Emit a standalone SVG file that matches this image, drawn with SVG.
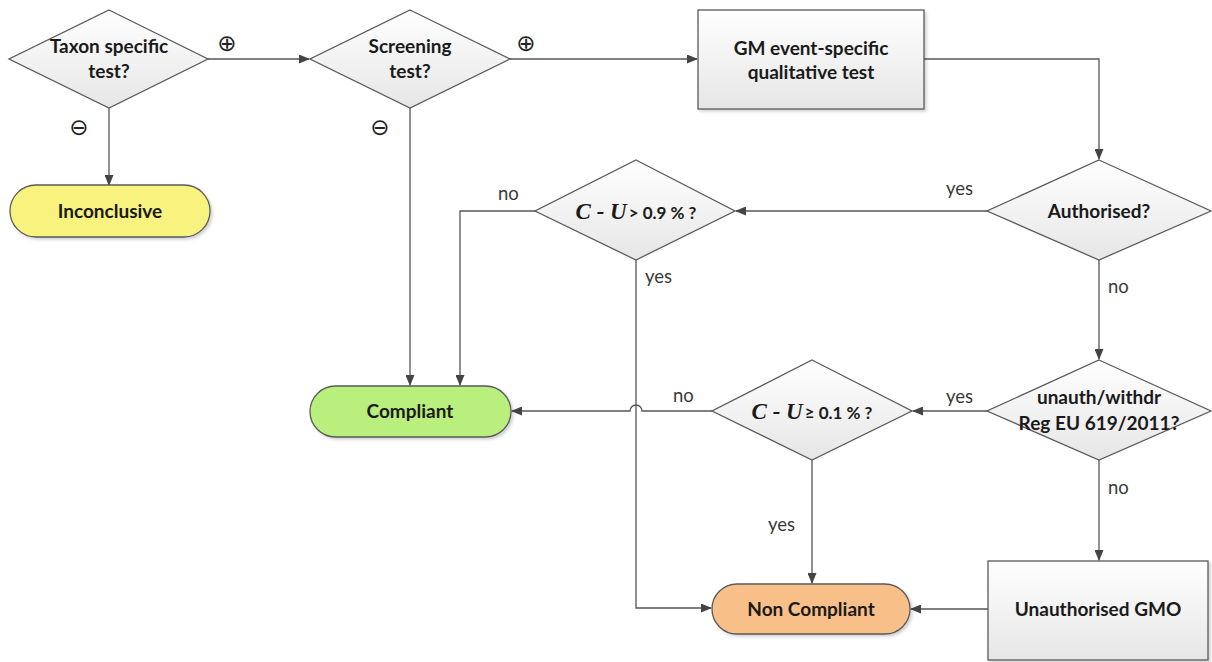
<svg xmlns="http://www.w3.org/2000/svg" width="1212" height="662" viewBox="0 0 1212 662">
<style>
.shape{stroke:#5a5a5a;stroke-width:1.3}
.t{font-family:Lato,"Liberation Sans",sans-serif;font-weight:bold;font-size:19px;fill:#1a1a1a;text-anchor:middle}
.lbl{font-family:Lato,"Liberation Sans",sans-serif;font-size:18.5px;fill:#3a3a3a}
.pm{font-family:"DejaVu Sans",sans-serif;font-size:23px;fill:#222;text-anchor:middle}
.cu{font-family:"Liberation Serif",serif;font-weight:bold;font-style:italic;font-size:23px;fill:#1a1a1a}
.cs{font-size:17px}
.edge{fill:none;stroke:#555;stroke-width:1.3}
</style>
<defs>
<linearGradient id="gray" x1="0" y1="0" x2="0" y2="1">
<stop offset="0" stop-color="#ffffff"/><stop offset="1" stop-color="#e6e6e6"/>
</linearGradient>
<filter id="sh" x="-10%" y="-10%" width="125%" height="130%">
<feDropShadow dx="2" dy="2" stdDeviation="1.5" flood-color="#000" flood-opacity="0.18"/>
</filter>
<marker id="arr" markerWidth="11" markerHeight="9" refX="10" refY="4.5" orient="auto" markerUnits="userSpaceOnUse">
<path d="M0,0 L11,4.5 L0,9 z" fill="#444"/>
</marker>
</defs>

<g id="connectors">
<path class="edge" d="M208,59 L309,59" marker-end="url(#arr)"/>
<path class="edge" d="M109,108 L109,185" marker-end="url(#arr)"/>
<path class="edge" d="M510,59 L697,59" marker-end="url(#arr)"/>
<path class="edge" d="M410,108 L410,385" marker-end="url(#arr)"/>
<path class="edge" d="M924,59 L1099,59 L1099,159" marker-end="url(#arr)"/>
<path class="edge" d="M987,211 L736,211" marker-end="url(#arr)"/>
<path class="edge" d="M535,211 L460,211 L460,385" marker-end="url(#arr)"/>
<path class="edge" d="M636,260 L636,608 L711,608" marker-end="url(#arr)"/>
<path class="edge" d="M1099,260 L1099,359" marker-end="url(#arr)"/>
<path class="edge" d="M987,411 L913,411" marker-end="url(#arr)"/>
<path class="edge" d="M712,411 L642,411 A6 6 0 0 0 630 411 L512,411" marker-end="url(#arr)"/>
<path class="edge" d="M812,460 L812,583" marker-end="url(#arr)"/>
<path class="edge" d="M1099,460 L1099,560" marker-end="url(#arr)"/>
<path class="edge" d="M988,609 L911,609" marker-end="url(#arr)"/>
<text class="pm" x="227" y="51">⊕</text>
<text class="pm" x="79" y="135">⊖</text>
<text class="pm" x="526" y="51">⊕</text>
<text class="pm" x="380" y="135">⊖</text>
<text class="lbl" x="946" y="195">yes</text>
<text class="lbl" x="498" y="200">no</text>
<text class="lbl" x="645" y="283">yes</text>
<text class="lbl" x="1108" y="293">no</text>
<text class="lbl" x="946" y="403">yes</text>
<text class="lbl" x="673" y="402">no</text>
<text class="lbl" x="1108" y="494">no</text>
<text class="lbl" x="768" y="531">yes</text>
</g>

<g id="taxon">
<polygon class="shape" fill="url(#gray)" points="109,10 208,59 109,108 9,59"/>
<text class="t" x="109" y="53">Taxon specific</text>
<text class="t" x="109" y="78">test?</text>
</g>
<g id="inconclusive">
<rect class="shape" x="10" y="185" width="200" height="52" rx="26" fill="#f8f27e" filter="url(#sh)"/>
<text class="t" x="110" y="218">Inconclusive</text>
</g>
<g id="screening">
<polygon class="shape" fill="url(#gray)" points="410,10 510,59 410,108 310,59"/>
<text class="t" x="410" y="53">Screening</text>
<text class="t" x="410" y="78">test?</text>
</g>
<g id="gm-event">
<rect class="shape" x="698" y="10" width="226" height="99" fill="url(#gray)" filter="url(#sh)"/>
<text class="t" x="811" y="55">GM event-specific</text>
<text class="t" x="811" y="79">qualitative test</text>
</g>
<g id="authorised">
<polygon class="shape" fill="url(#gray)" points="1099,160 1211,211 1099,260 987,211"/>
<text class="t" x="1099" y="218">Authorised?</text>
</g>
<g id="cu09">
<polygon class="shape" fill="url(#gray)" points="636,160 735,211 636,260 535,211"/>
<text class="t" x="636" y="219"><tspan class="cu">C - U</tspan><tspan class="cs" dx="2">&gt; 0.9 % ?</tspan></text>
</g>
<g id="compliant">
<rect class="shape" x="310" y="386" width="201" height="51" rx="25.5" fill="#b9ef7c" filter="url(#sh)"/>
<text class="t" x="410" y="418">Compliant</text>
</g>
<g id="cu01">
<polygon class="shape" fill="url(#gray)" points="812,360 912,411 812,460 712,411"/>
<text class="t" x="812" y="419"><tspan class="cu">C - U</tspan><tspan class="cs" dx="2">≥  0.1 % ?</tspan></text>
</g>
<g id="unauth-withdr">
<polygon class="shape" fill="url(#gray)" points="1099,360 1211,411 1099,460 987,411"/>
<text class="t" x="1099" y="404">unauth/withdr</text>
<text class="t" x="1099" y="430">Reg EU 619/2011?</text>
</g>
<g id="non-compliant">
<rect class="shape" x="712" y="584" width="198" height="50" rx="25" fill="#f8c088" filter="url(#sh)"/>
<text class="t" x="811" y="616">Non Compliant</text>
</g>
<g id="unauthorised-gmo">
<rect class="shape" x="988" y="561" width="220" height="99" fill="url(#gray)" filter="url(#sh)"/>
<text class="t" x="1098" y="616">Unauthorised GMO</text>
</g>
</svg>
